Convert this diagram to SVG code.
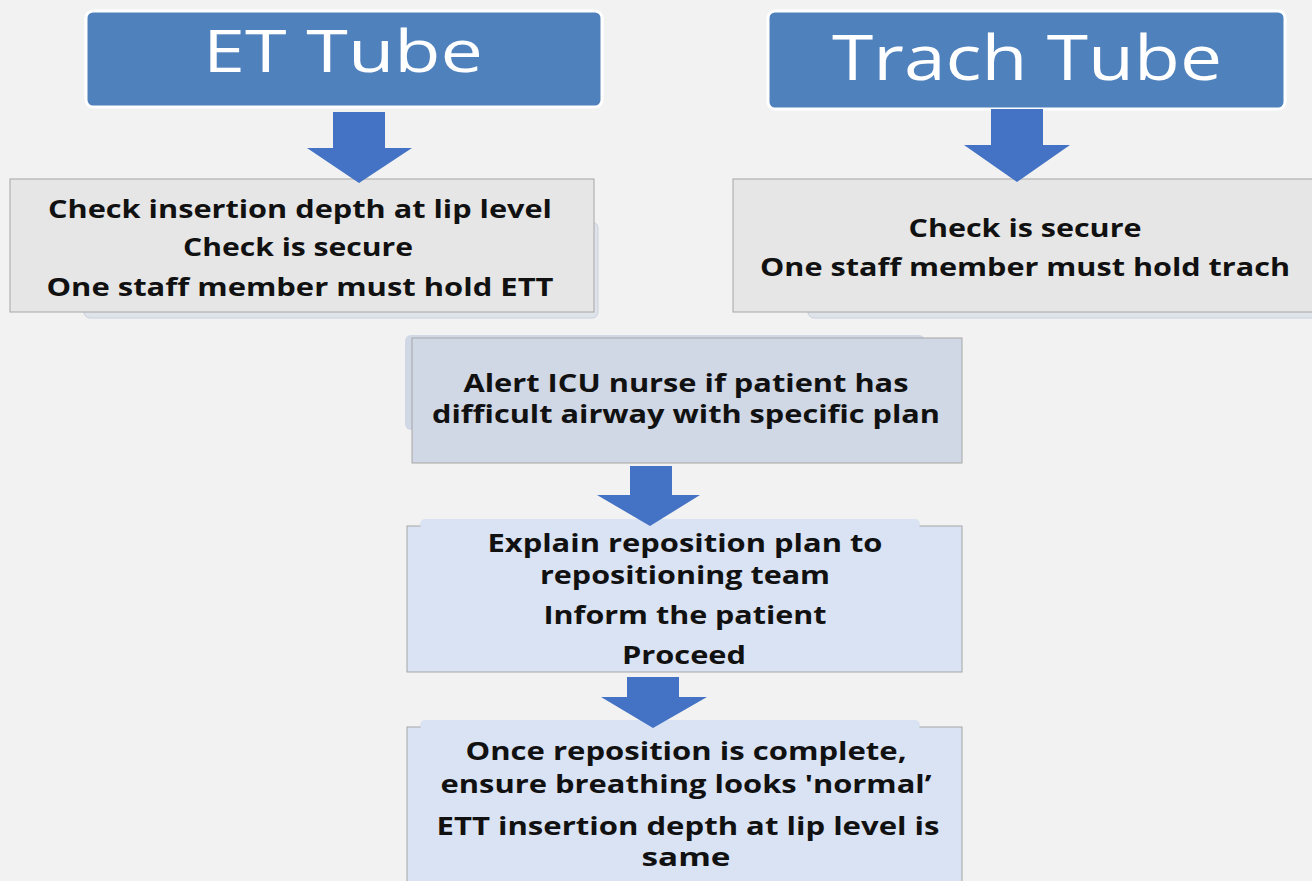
<svg xmlns="http://www.w3.org/2000/svg" width="1312" height="881" viewBox="0 0 1312 881">
<defs>
<style>
.title{font-family:"Open Sans","Liberation Sans",sans-serif;font-size:58px;fill:#ffffff;text-anchor:middle}
.t{font-family:"Open Sans","Liberation Sans",sans-serif;font-weight:700;font-size:25px;fill:#111111;text-anchor:middle}
.hdr{fill:#4f81bd;stroke:#ffffff;stroke-width:3}
.gray{fill:#e6e6e6;stroke:#a6a6a6;stroke-width:1}
.blue1{fill:#d0d7e5;stroke:#a6a6a6;stroke-width:1}
.blue2{fill:#dae3f3;stroke:#a6a6a6;stroke-width:1}
.arrow{fill:#4472c4}
</style>
</defs>
<rect width="1312" height="881" fill="#f2f2f2"/>

<g id="et-tube">
<rect class="hdr" x="86" y="11" width="516" height="96" rx="7"/>
<text class="title" x="343" y="72" textLength="280" lengthAdjust="spacingAndGlyphs">ET Tube</text>
</g>

<g id="trach-tube">
<rect class="hdr" x="768" y="11" width="517" height="98" rx="7"/>
<text class="title" x="1027" y="80" style="font-size:62px" textLength="390" lengthAdjust="spacingAndGlyphs">Trach Tube</text>
</g>

<g id="et-checks">
<rect x="84" y="222" width="514" height="96" rx="6" style="fill:#dfe3ea;stroke:#c8cfdb;stroke-width:1"/>
<rect class="gray" x="10" y="179" width="584" height="133"/>
<text class="t" x="300" y="218" textLength="504" lengthAdjust="spacingAndGlyphs">Check insertion depth at lip level</text>
<text class="t" x="298" y="256" textLength="230" lengthAdjust="spacingAndGlyphs">Check is secure</text>
<text class="t" x="300" y="296" textLength="507" lengthAdjust="spacingAndGlyphs">One staff member must hold ETT</text>
</g>

<g id="trach-checks">
<rect x="808" y="222" width="520" height="96" rx="6" style="fill:#dfe3ea;stroke:#c8cfdb;stroke-width:1"/>
<rect class="gray" x="733" y="179" width="590" height="133"/>
<text class="t" x="1025" y="237" textLength="233" lengthAdjust="spacingAndGlyphs">Check is secure</text>
<text class="t" x="1025" y="276" textLength="530" lengthAdjust="spacingAndGlyphs">One staff member must hold trach</text>
</g>

<g id="alert">
<rect x="405" y="335" width="520" height="95" rx="6" style="fill:#d0d7e5;stroke:none"/>
<rect class="blue1" x="412" y="338" width="550" height="125"/>
<text class="t" x="686" y="392" textLength="445" lengthAdjust="spacingAndGlyphs">Alert ICU nurse if patient has</text>
<text class="t" x="686" y="423" textLength="508" lengthAdjust="spacingAndGlyphs">difficult airway with specific plan</text>
</g>

<g id="explain">
<rect class="blue2" x="407" y="526" width="555" height="146"/>
<rect x="420" y="519" width="500" height="10" rx="5" style="fill:#dae3f3;stroke:none"/>
<text class="t" x="685" y="552" textLength="395" lengthAdjust="spacingAndGlyphs">Explain reposition plan to</text>
<text class="t" x="685" y="584" textLength="290" lengthAdjust="spacingAndGlyphs">repositioning team</text>
<text class="t" x="685" y="624" textLength="283" lengthAdjust="spacingAndGlyphs">Inform the patient</text>
<text class="t" x="684" y="664" textLength="124" lengthAdjust="spacingAndGlyphs">Proceed</text>
</g>

<g id="once">
<rect class="blue2" x="407" y="727" width="555" height="160"/>
<rect x="420" y="720" width="500" height="10" rx="5" style="fill:#dae3f3;stroke:none"/>
<text class="t" x="686" y="760" textLength="441" lengthAdjust="spacingAndGlyphs">Once reposition is complete,</text>
<text class="t" x="686" y="793" textLength="491" lengthAdjust="spacingAndGlyphs">ensure breathing looks 'normal’</text>
<text class="t" x="688" y="835" textLength="503" lengthAdjust="spacingAndGlyphs">ETT insertion depth at lip level is</text>
<text class="t" x="686" y="866" textLength="89" lengthAdjust="spacingAndGlyphs">same</text>
</g>

<g id="connectors">
<path class="arrow" d="M333 112 H385 V148 H412 L359 183 L307 148 H333 Z"/>
<path class="arrow" d="M991 109 H1043 V145 H1070 L1017 182 L964 145 H991 Z"/>
<path class="arrow" d="M630 466 H672 V495 H700 L650 526 L597 495 H630 Z"/>
<path class="arrow" d="M627 677 H679 V697 H707 L653 728 L601 697 H627 Z"/>
</g>
</svg>
